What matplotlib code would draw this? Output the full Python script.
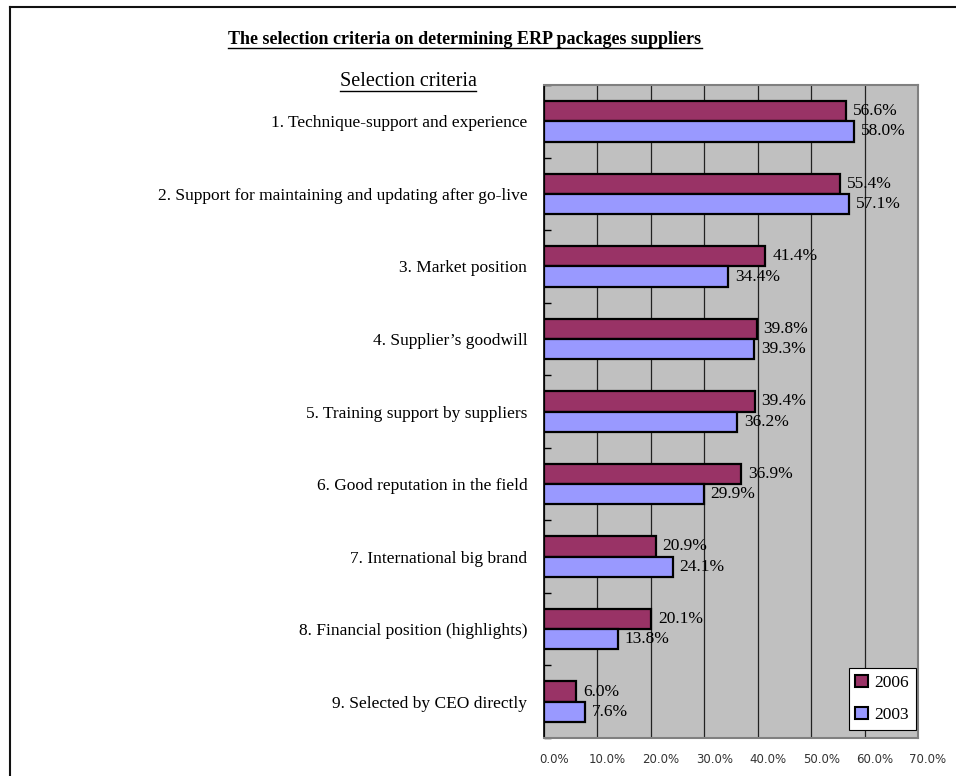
import numpy as np
import matplotlib.pyplot as plt
import matplotlib.transforms as mtransforms
from matplotlib.lines import Line2D
from matplotlib.patches import Patch

criteria = ["1. Technique-support and experience",
            "2. Support for maintaining and updating after go-live",
            "3. Market position",
            "4. Supplier\u2019s goodwill",
            "5. Training support by suppliers",
            "6. Good reputation in the field",
            "7. International big brand",
            "8. Financial position (highlights)",
            "9. Selected by CEO directly"]
v2006 = [56.6, 55.4, 41.4, 39.8, 39.4, 36.9, 20.9, 20.1, 6.0]
v2003 = [58.0, 57.1, 34.4, 39.3, 36.2, 29.9, 24.1, 13.8, 7.6]
xticks = [0, 10, 20, 30, 40, 50, 60, 70]

serif = ["Liberation Serif", "DejaVu Serif"]
c06 = "#993366"
c03 = "#9999ff"

fig = plt.figure(figsize=(9.56, 7.76), dpi=100)
ax = fig.add_axes([544/956, 38/776, 374/956, 653/776])
ax.set_facecolor("#c0c0c0")

y = np.arange(len(criteria))
h = 0.28
ax.barh(y - h/2, v2006, height=h, color=c06, edgecolor="black", linewidth=1.6, zorder=3)
ax.barh(y + h/2, v2003, height=h, color=c03, edgecolor="black", linewidth=1.6, zorder=3)

for i in range(len(criteria)):
    ax.text(v2006[i] + 1.3, y[i] - h/2, "%.1f%%" % v2006[i], va="center", ha="left",
            fontsize=12.5, family=serif, zorder=4)
    ax.text(v2003[i] + 1.3, y[i] + h/2, "%.1f%%" % v2003[i], va="center", ha="left",
            fontsize=12.5, family=serif, zorder=4)

ax.set_xlim(0, 70)
ax.set_ylim(len(criteria) - 0.5, -0.5)
ax.set_xticks(xticks)
ax.set_xticklabels(["%.1f%%" % t for t in xticks], fontsize=8.5, color="#333333")
ax.tick_params(axis="x", length=0, pad=11)
off = mtransforms.ScaledTranslation(0.10, 0, fig.dpi_scale_trans)
for lab in ax.get_xticklabels():
    lab.set_transform(lab.get_transform() + off)

ax.set_yticks(y)
ax.set_yticklabels(criteria, fontsize=12.5, family=serif)
ax.tick_params(axis="y", which="major", length=0, pad=12)
ax.set_yticks(np.arange(-0.5, len(criteria)), minor=True)
ax.tick_params(axis="y", which="minor", direction="in", length=5, width=1)

ax.grid(axis="x", color="#222222", linewidth=0.9, zorder=1)
for s in ["top", "right", "bottom"]:
    ax.spines[s].set_color("#808080")
    ax.spines[s].set_linewidth(1.5)
ax.spines["left"].set_color("black")
ax.spines["left"].set_linewidth(1.2)

handles = [Patch(facecolor=c06, edgecolor="black", linewidth=1.5, label="2006"),
           Patch(facecolor=c03, edgecolor="black", linewidth=1.5, label="2003")]
leg = ax.legend(handles=handles, loc="lower right", bbox_to_anchor=(0.995, 0.012),
                borderaxespad=0, prop={"family": serif, "size": 12.5}, fancybox=False,
                framealpha=1, edgecolor="black", handlelength=0.7, handleheight=0.7,
                handletextpad=0.4, labelspacing=0.9, borderpad=0.4)
leg.get_frame().set_linewidth(0.8)
leg.set_zorder(5)

# title and subtitle, underlined
t1 = fig.text(465/956, 1 - 40/776, "The selection criteria on determining ERP packages suppliers",
              ha="center", va="center", fontsize=13, fontweight="bold", family=serif)
t2 = fig.text(408/956, 1 - 82/776, "Selection criteria", ha="center", va="center",
              fontsize=14.5, family=serif)
r = fig.canvas.get_renderer()
for t in (t1, t2):
    bb = t.get_window_extent(r).transformed(fig.transFigure.inverted())
    yy = bb.y0 + 1/776
    fig.add_artist(Line2D([bb.x0, bb.x1], [yy, yy], transform=fig.transFigure,
                          color="black", linewidth=1.0))

# outer border (top and left)
fig.add_artist(Line2D([10/956, 1], [1 - 7/776, 1 - 7/776], transform=fig.transFigure,
                      color="#111111", linewidth=1.5))
fig.add_artist(Line2D([10/956, 10/956], [0, 1 - 7/776], transform=fig.transFigure,
                      color="#111111", linewidth=1.5))

fig.savefig("out.png", dpi=100)
